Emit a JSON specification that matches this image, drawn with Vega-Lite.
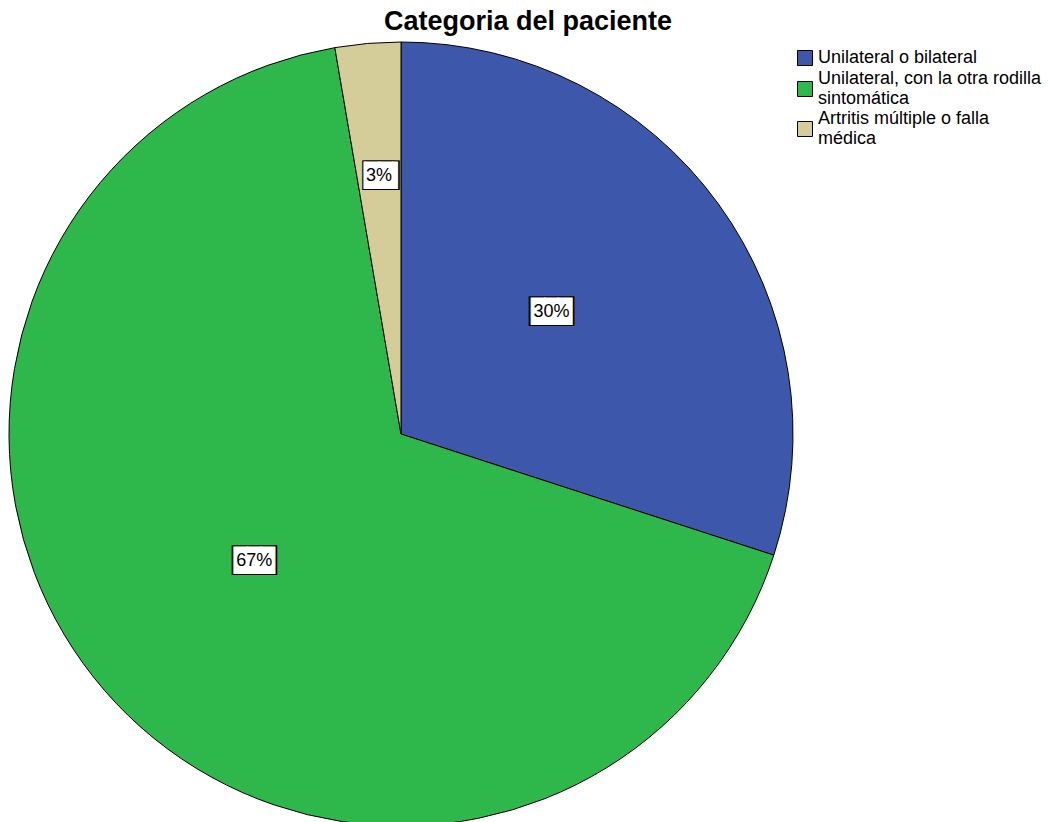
{
  "$schema": "https://vega.github.io/schema/vega-lite/v6.json",
  "width": 802,
  "height": 822,
  "autosize": {"type": "none"},
  "padding": {"left": 0, "top": 23, "right": 247, "bottom": -23},
  "background": "white",
  "config": {"view": {"stroke": null}},
  "title": {
    "text": "Categoria del paciente",
    "font": "Liberation Sans",
    "fontSize": 27,
    "fontWeight": "bold",
    "color": "black",
    "anchor": "middle",
    "dx": 127,
    "offset": -13
  },
  "data": {
    "values": [
      {"categoria": "Unilateral o bilateral", "porcentaje": 30.0, "etiqueta": "30%", "orden": 1},
      {"categoria": "Unilateral, con la otra rodilla sintomática", "porcentaje": 67.3, "etiqueta": "67%", "orden": 2},
      {"categoria": "Artritis múltiple o falla médica", "porcentaje": 2.7, "etiqueta": "3%", "orden": 3}
    ]
  },
  "layer": [
    {
      "mark": {"type": "point", "filled": true, "size": 100, "opacity": 1},
      "encoding": {
        "color": {"field": "categoria", "type": "nominal"},
        "shape": {
          "field": "categoria",
          "type": "nominal",
          "scale": {
            "domain": ["Unilateral o bilateral", "Unilateral, con la otra rodilla sintomática", "Artritis múltiple o falla médica"],
            "range": ["M-1,-1H1V1H-1Z", "M-1,0.333H1V2.333H-1Z", "M-1,0.333H1V2.333H-1Z"]
          }
        }
      }
    },
    {
      "mark": {"type": "arc", "outerRadius": 392, "stroke": "black", "strokeWidth": 1},
      "encoding": {
        "theta": {"field": "porcentaje", "type": "quantitative", "stack": true},
        "order": {"field": "orden", "type": "quantitative"},
        "color": {
          "field": "categoria",
          "type": "nominal",
          "scale": {
            "domain": ["Unilateral o bilateral", "Unilateral, con la otra rodilla sintomática", "Artritis múltiple o falla médica"],
            "range": ["#3D58AB", "#2EB74A", "#D4CD9A"]
          },
          "legend": {
            "title": null,
            "orient": "none",
            "legendX": 796,
            "legendY": 26,
            "symbolSize": 225,
            "symbolStrokeColor": "black",
            "symbolStrokeWidth": 1,
            "symbolOpacity": 1,
            "labelFont": "Liberation Sans",
            "labelFontSize": 18,
            "labelColor": "black",
            "labelLimit": 400,
            "labelOffset": 4,
            "rowPadding": 2,
            "labelExpr": "datum.label == 'Unilateral, con la otra rodilla sintomática' ? ['Unilateral, con la otra rodilla', 'sintomática'] : datum.label == 'Artritis múltiple o falla médica' ? ['Artritis múltiple o falla', 'médica'] : datum.label"
          }
        }
      }
    },
    {
      "mark": {"type": "text", "font": "DejaVu Sans Mono", "fontSize": 25, "color": "black", "align": "center", "baseline": "middle", "radius": 194, "radiusOffset": {"expr": "datum.orden == 3 ? 65 : 0"}, "thetaOffset": {"expr": "datum.orden == 1 ? -0.055 : 0"}},
      "encoding": {
        "theta": {"field": "porcentaje", "type": "quantitative", "stack": true},
        "order": {"field": "orden", "type": "quantitative"},
        "detail": {"field": "categoria", "type": "nominal"},
        "text": {"condition": {"test": "datum.orden == 3", "value": "▕██▍"}, "value": "███"}
      }
    },
    {
      "mark": {"type": "text", "font": "DejaVu Sans Mono", "fontSize": 22.4, "color": "white", "stroke": "white", "strokeWidth": 1, "align": "center", "baseline": "middle", "radius": 194, "radiusOffset": {"expr": "datum.orden == 3 ? 65 : 0"}, "thetaOffset": {"expr": "datum.orden == 1 ? -0.055 : 0"}},
      "encoding": {
        "theta": {"field": "porcentaje", "type": "quantitative", "stack": true},
        "order": {"field": "orden", "type": "quantitative"},
        "detail": {"field": "categoria", "type": "nominal"},
        "text": {"condition": {"test": "datum.orden == 3", "value": "▕██▍"}, "value": "███"}
      }
    },
    {
      "mark": {"type": "text", "font": "Liberation Sans", "fontSize": 18, "color": "black", "align": "center", "baseline": "middle", "radius": 194, "radiusOffset": {"expr": "datum.orden == 3 ? 65 : 0"}, "thetaOffset": {"expr": "datum.orden == 1 ? -0.055 : 0"}},
      "encoding": {
        "theta": {"field": "porcentaje", "type": "quantitative", "stack": true},
        "order": {"field": "orden", "type": "quantitative"},
        "detail": {"field": "categoria", "type": "nominal"},
        "text": {"field": "etiqueta", "type": "nominal"}
      }
    }
  ]
}
